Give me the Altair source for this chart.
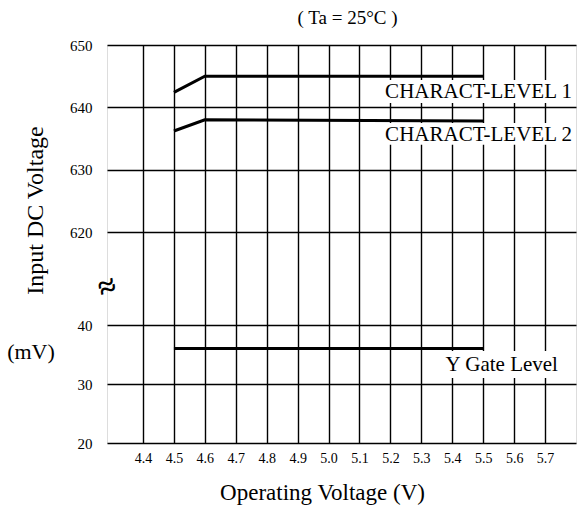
import altair as alt
import pandas as pd

# Operating voltage (V) and input DC voltage (mV) for each level curve
lvl1_x = [4.5, 4.6, 5.5]
lvl1_y = [642.4, 645.0, 645.0]
lvl2_x = [4.5, 4.6, 5.5]
lvl2_y = [636.2, 638.0, 637.8]
gate_x = [4.5, 5.5]
gate_y = [36.0, 36.0]

# Axis ticks
x_ticks = [4.4, 4.5, 4.6, 4.7, 4.8, 4.9, 5.0, 5.1, 5.2, 5.3, 5.4, 5.5, 5.6, 5.7]
y_ticks = [20, 30, 40, 620, 630, 640, 650]

# Curve labels (text, anchor x, anchor y, align) and the white plates behind them
label_text = ["CHARACT-LEVEL 1", "CHARACT-LEVEL 2", "Y Gate Level"]
label_x = [5.787, 5.787, 5.56]
label_y = [642.4, 635.6, 33.2]
label_align = ["right", "right", "center"]
plate_x1 = [5.17, 5.17, 5.37]
plate_x2 = [5.795, 5.795, 5.75]
plate_y1 = [640.7, 634.0, 31.0]
plate_y2 = [644.4, 637.5, 35.6]

# position of the axis-break mark inside the gap of the y scale
break_x = [4.3]
break_y = [277]

FONT = "Liberation Serif"

# Piecewise scales: y is broken between 40 and 620 mV
xscale = alt.Scale(domain=[4.3, 4.4, 5.8], range=[0, 36, 469], nice=False, zero=False)
yscale = alt.Scale(domain=[20, 40, 620, 650], range=[398, 280, 187, 0], nice=False, zero=False)

curves = pd.concat([
    pd.DataFrame({"v": lvl1_x, "mv": lvl1_y, "series": "CHARACT-LEVEL 1"}),
    pd.DataFrame({"v": lvl2_x, "mv": lvl2_y, "series": "CHARACT-LEVEL 2"}),
    pd.DataFrame({"v": gate_x, "mv": gate_y, "series": "Y Gate Level"}),
])
labels = pd.DataFrame({"text": label_text, "x": label_x, "y": label_y, "align": label_align})
plates = pd.DataFrame({"x1": plate_x1, "x2": plate_x2, "y1": plate_y1, "y2": plate_y2})
brk = pd.DataFrame({"x": break_x, "y": break_y})

x_axis = alt.Axis(
    values=x_ticks, format=".1f", ticks=False, domain=False, labelOverlap=False,
    grid=True, gridColor="black", gridWidth=1.4, gridOpacity=1,
    labelFont=FONT, labelFontSize=14, labelColor="black", labelPadding=8,
    title="Operating  Voltage (V)", titleFont=FONT, titleFontSize=23,
    titleFontWeight="normal", titleColor="black",
    titleX=215, titleY=49, titleBaseline="middle", titleAnchor="middle",
)
y_axis = alt.Axis(
    values=y_ticks, ticks=False, domain=False, labelOverlap=False,
    grid=True, gridColor="black", gridWidth=1.4, gridOpacity=1,
    labelFont=FONT, labelFontSize=15, labelColor="black", labelPadding=15,
    title="Input DC Voltage", titleFont=FONT, titleFontSize=24,
    titleFontWeight="normal", titleColor="black", titleAngle=270,
    titleX=-72, titleY=165, titleAlign="center", titleBaseline="middle",
)


def xenc(field):
    return alt.X(field, scale=xscale, axis=x_axis)


def yenc(field):
    return alt.Y(field, scale=yscale, axis=y_axis)


lines = alt.Chart(curves).mark_line(color="black", strokeWidth=3).encode(
    x=xenc("v:Q"), y=yenc("mv:Q"), detail="series:N",
)

plate_marks = alt.Chart(plates).mark_rect(color="white").encode(
    x=xenc("x1:Q"), x2="x2:Q", y=yenc("y1:Q"), y2="y2:Q",
)

text_right = alt.Chart(labels[labels["align"] == "right"]).mark_text(
    font=FONT, fontSize=21, align="right", baseline="middle", color="black"
).encode(x=xenc("x:Q"), y=yenc("y:Q"), text="text:N")

text_center = alt.Chart(labels[labels["align"] == "center"]).mark_text(
    font=FONT, fontSize=21, align="center", baseline="middle", color="black"
).encode(x=xenc("x:Q"), y=yenc("y:Q"), text="text:N")

break_mark = alt.Chart(brk).mark_text(
    text="≈", font=FONT, fontSize=32, fontWeight="bold", angle=340,
    align="center", baseline="middle", color="black"
).encode(x=xenc("x:Q"), y=yenc("y:Q"))

unit_label = alt.Chart(pd.DataFrame({"t": ["(mV)"]})).mark_text(
    font=FONT, fontSize=22, align="center", baseline="middle", color="black"
).encode(x=alt.value(-76), y=alt.value(307), text="t:N")

chart = alt.layer(
    plate_marks, lines, text_right, text_center, break_mark, unit_label
).properties(
    width=469,
    height=398,
    autosize=alt.AutoSizeParams(type="none"),
    padding={"left": 107, "top": 45, "right": 3, "bottom": 65},
    title=alt.TitleParams(
        "( Ta = 25°C )", font=FONT, fontSize=19, fontWeight="normal",
        color="black", anchor="middle", offset=10, dx=6,
    ),
).configure_view(
    stroke="black", strokeWidth=2.2
).configure(background="white")

chart.save("out.html", embed_options={"renderer": "svg", "actions": False})
